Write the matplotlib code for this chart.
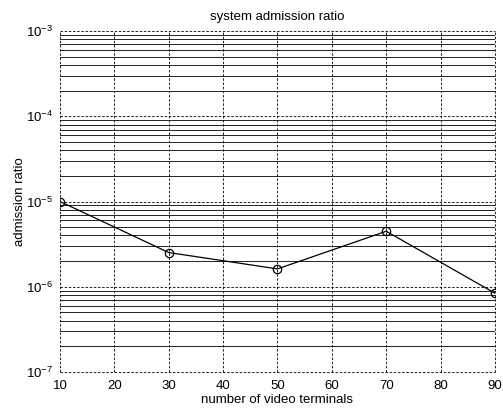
import matplotlib
matplotlib.use("Agg")
import matplotlib.pyplot as plt
from matplotlib.ticker import LogLocator, FixedLocator

# data
terminals = [10, 30, 50, 70, 90]
admission = [1.0e-5, 2.52e-6, 1.62e-6, 4.48e-6, 8.4e-7]
x_ticks = [10, 20, 30, 40, 50, 60, 70, 80, 90]
y_ticks = [1e-7, 1e-6, 1e-5, 1e-4, 1e-3]
y_labels = ['$10^{-7}$', '$10^{-6}$', '$10^{-5}$', '$10^{-4}$', '$10^{-3}$']

plt.rcParams['font.family'] = ['Liberation Sans', 'DejaVu Sans']
plt.rcParams['mathtext.fontset'] = 'custom'
plt.rcParams['mathtext.rm'] = 'Liberation Sans'
plt.rcParams['mathtext.it'] = 'Liberation Sans'

fig = plt.figure(figsize=(5.03, 4.09), dpi=100)
ax = fig.add_axes([0.1193, 0.0905, 0.8647, 0.8335])

ax.semilogy(terminals, admission, color='black', linewidth=0.9,
            marker='o', markersize=6, markerfacecolor='none',
            markeredgecolor='black', markeredgewidth=0.9, zorder=5)

ax.set_xlim(10, 90)
ax.set_ylim(1e-7, 1e-3)
ax.xaxis.set_major_locator(FixedLocator(x_ticks))
ax.set_yticks(y_ticks)
ax.set_yticklabels(y_labels)
ax.yaxis.set_minor_locator(LogLocator(base=10, subs=range(2, 10)))

# major grid dashed, minor grid solid (matlab look)
ax.grid(True, which='major', linestyle=(0, (3, 2)), color='black', linewidth=0.6)
ax.grid(True, which='minor', axis='y', linestyle='-', color='black', linewidth=0.6)
for gl in ax.get_xgridlines() + ax.get_ygridlines():
    gl.set_clip_on(False)

for s in ax.spines.values():
    s.set_visible(False)
ax.tick_params(which='both', length=0, labelsize=9.5, pad=5)
ax.tick_params(axis='x', pad=6)

ax.set_title('system admission ratio', fontsize=9.5, pad=8)
ax.set_xlabel('number of video terminals', fontsize=9.5, labelpad=1)
ax.set_ylabel('admission ratio', fontsize=9.5, labelpad=0)

fig.savefig('out.png', dpi=100)
